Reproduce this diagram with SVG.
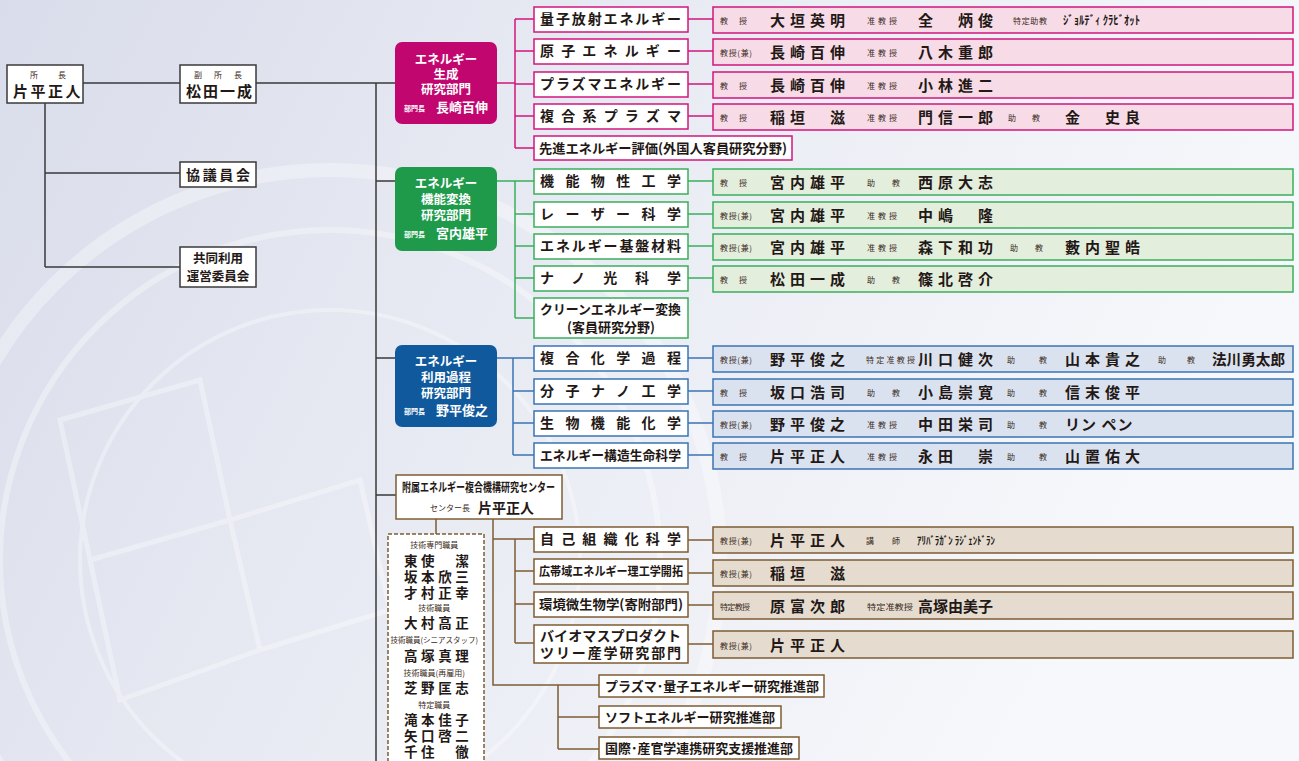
<svg xmlns="http://www.w3.org/2000/svg" width="1299" height="761" viewBox="0 0 1299 761">
<defs>
<linearGradient id="bg" x1="0" y1="0" x2="1" y2="0.3">
<stop offset="0" stop-color="#d9dcea"/>
<stop offset="0.45" stop-color="#e8eaf3"/>
<stop offset="1" stop-color="#f7f8fb"/>
</linearGradient>
<style>
text{font-family:"Noto Sans CJK JP","Noto Sans CJK SC",sans-serif;font-weight:700;fill:#231815}
.w{fill:#fff}
.dp{font-size:12.5px}
.sm{font-size:8px;font-weight:400;fill:#3a2a20}
.nm{font-size:15px;letter-spacing:5px}
.nm0{font-size:15px}
.ts{font-size:13.5px;letter-spacing:3.6px}
.sb{font-size:14px}
.box{fill:#fff;stroke:#3a3a3a;stroke-width:1.5}
.pk{fill:#fff;stroke:#d2167c;stroke-width:1.5}
.pkp{fill:#f7dce8;stroke:#d2167c;stroke-width:1.5}
.gr{fill:#fff;stroke:#3aae5c;stroke-width:1.5}
.grp{fill:#e3eedd;stroke:#3aae5c;stroke-width:1.5}
.bl{fill:#fff;stroke:#3a74b4;stroke-width:1.5}
.blp{fill:#dbe2ef;stroke:#3a74b4;stroke-width:1.5}
.br{fill:#fff;stroke:#7d5c33;stroke-width:1.5}
.brp{fill:#e5dccf;stroke:#7d5c33;stroke-width:1.5}
.lk{stroke:#3a3a3a;stroke-width:1.5;fill:none}
.lp{stroke:#d2167c;stroke-width:1.5;fill:none}
.lg{stroke:#3aae5c;stroke-width:1.5;fill:none}
.lb{stroke:#3a74b4;stroke-width:1.5;fill:none}
.ln{stroke:#7d5c33;stroke-width:1.5;fill:none}
</style>
</defs>
<rect width="1299" height="761" fill="url(#bg)"/>
<g opacity="0.35" fill="none" stroke="#ffffff">
<circle cx="330" cy="560" r="390" stroke-width="14"/>
<circle cx="330" cy="560" r="330" stroke-width="6"/>
<circle cx="330" cy="560" r="250" stroke-width="4"/>
<path d="M60 420 L200 380 L230 520 L90 560 Z M230 520 L360 480 L390 610 L260 650 Z M90 560 L230 520 L260 650 L120 700 Z" stroke-width="5"/>
</g>

<g id="connectors">
<path class="lk" d="M83 83 H180 M256 83 H395 M45 103 V267 M45 173 H180 M45 267 H180"/>
<path class="lk" d="M376 83 V761 M376 181 H395 M376 358 H395 M376 495 H396"/>
<path class="lp" d="M497 83 H515 M515 19 V148 M515 19 H534 M515 51 H534 M515 84 H534 M515 116 H534 M515 148 H534"/>
<path class="lp" d="M688 19 H713 M688 51 H713 M688 84 H713 M688 116 H713"/>
<path class="lg" d="M497 181 H534 M515 181 V318 M515 214 H534 M515 246 H534 M515 278 H534 M515 318 H534"/>
<path class="lg" d="M688 181 H713 M688 214 H713 M688 246 H713 M688 278 H713"/>
<path class="lb" d="M497 358 H534 M513 358 V455 M513 391 H534 M513 423 H534 M513 455 H534"/>
<path class="lb" d="M688 358 H713 M688 391 H713 M688 423 H713 M688 455 H713"/>
<path class="ln" d="M436 519 V534 M493 519 V685 H599 M493 539 H534 M515 539 V643 M515 571 H534 M515 604 H534 M515 643 H534"/>
<path class="ln" d="M688 540 H713 M688 573 H713 M688 605 H713 M688 644 H713"/>
<path class="ln" d="M558 685 V749 M558 717 H599 M558 749 H599"/>
</g>

<g id="director">
<rect class="box" x="7" y="65" width="76" height="38"/>
<text class="sm" x="30" y="78" textLength="36" lengthAdjust="spacing">所長</text>
<text class="nm" x="13" y="97" style="letter-spacing:2.5px">片平正人</text>
</g>
<g id="vice-director">
<rect class="box" x="180" y="65" width="76" height="38"/>
<text class="sm" x="194" y="78" textLength="48" lengthAdjust="spacing">副所長</text>
<text class="nm" x="186" y="97" style="letter-spacing:2px">松田一成</text>
</g>
<g id="council">
<rect class="box" x="180" y="162" width="76" height="25"/>
<text class="sb" x="186" y="180" textLength="64" lengthAdjust="spacing">協議員会</text>
</g>
<g id="joint-committee">
<rect class="box" x="180" y="247" width="76" height="40"/>
<text font-size="12.5" text-anchor="middle"><tspan x="218" y="263">共同利用</tspan><tspan x="218" y="281">運営委員会</tspan></text>
</g>

<g id="dept-generation">
<rect x="395" y="42" width="102" height="82" rx="7" fill="#c2066f"/>
<text class="w dp" text-anchor="middle"><tspan x="446" y="64">エネルギー</tspan><tspan x="446" y="79">生成</tspan><tspan x="446" y="94">研究部門</tspan></text>
<text class="w" x="404" y="111" font-size="7" font-weight="400">部門長</text>
<text class="w" x="436" y="112" font-size="13">長崎百伸</text>
</g>
<g id="pk1">
<rect class="pk" x="534" y="7" width="154" height="25"/>
<text class="sb" x="540" y="24" textLength="141" lengthAdjust="spacing">量子放射エネルギー</text>
<rect class="pkp" x="713" y="7" width="580" height="26"/>
<text class="sm" x="720" y="24" textLength="27" lengthAdjust="spacing">教授</text>
<text class="nm" x="770" y="26">大垣英明</text>
<text class="sm" x="867" y="24" textLength="30" lengthAdjust="spacing">准教授</text>
<text class="nm" x="918" y="26">全　炳俊</text>
<text class="sm" x="1013" y="24" textLength="34" lengthAdjust="spacing">特定助教</text>
<text x="1063" y="25" font-size="12" font-weight="400" textLength="77" lengthAdjust="spacingAndGlyphs">ｼﾞｮﾙﾃﾞｨ ｸﾗﾋﾞｵｯﾄ</text>
</g>
<g id="pk2">
<rect class="pk" x="534" y="39" width="154" height="25"/>
<text class="sb" x="540" y="56" textLength="141" lengthAdjust="spacing">原子エネルギー</text>
<rect class="pkp" x="713" y="39" width="580" height="26"/>
<text class="sm" x="720" y="56" textLength="32" lengthAdjust="spacing">教授(兼)</text>
<text class="nm" x="770" y="58">長崎百伸</text>
<text class="sm" x="867" y="56" textLength="30" lengthAdjust="spacing">准教授</text>
<text class="nm" x="918" y="58">八木重郎</text>
</g>
<g id="pk3">
<rect class="pk" x="534" y="72" width="154" height="25"/>
<text class="sb" x="540" y="89" textLength="141" lengthAdjust="spacing">プラズマエネルギー</text>
<rect class="pkp" x="713" y="72" width="580" height="26"/>
<text class="sm" x="720" y="89" textLength="27" lengthAdjust="spacing">教授</text>
<text class="nm" x="770" y="91">長崎百伸</text>
<text class="sm" x="867" y="89" textLength="30" lengthAdjust="spacing">准教授</text>
<text class="nm" x="918" y="91">小林進二</text>
</g>
<g id="pk4">
<rect class="pk" x="534" y="104" width="154" height="25"/>
<text class="sb" x="540" y="121" textLength="141" lengthAdjust="spacing">複合系プラズマ</text>
<rect class="pkp" x="713" y="104" width="580" height="26"/>
<text class="sm" x="720" y="121" textLength="27" lengthAdjust="spacing">教授</text>
<text class="nm" x="770" y="123">稲垣　滋</text>
<text class="sm" x="867" y="121" textLength="30" lengthAdjust="spacing">准教授</text>
<text class="nm" x="918" y="123">門信一郎</text>
<text class="sm" x="1008" y="121" textLength="32" lengthAdjust="spacing">助教</text>
<text class="nm" x="1065" y="123">金　史良</text>
</g>
<g id="pk5">
<rect class="pk" x="534" y="136" width="258" height="24"/>
<text x="539" y="153" font-size="13" textLength="248" lengthAdjust="spacingAndGlyphs">先進エネルギー評価(外国人客員研究分野)</text>
</g>

<g id="dept-conversion">
<rect x="395" y="167" width="102" height="84" rx="7" fill="#1e9a4a"/>
<text class="w dp" text-anchor="middle"><tspan x="446" y="188">エネルギー</tspan><tspan x="446" y="204">機能変換</tspan><tspan x="446" y="220">研究部門</tspan></text>
<text class="w" x="404" y="237" font-size="7" font-weight="400">部門長</text>
<text class="w" x="436" y="238" font-size="13">宮内雄平</text>
</g>
<g id="gr1">
<rect class="gr" x="534" y="169" width="154" height="25"/>
<text class="sb" x="540" y="186" textLength="141" lengthAdjust="spacing">機能物性工学</text>
<rect class="grp" x="713" y="169" width="580" height="26"/>
<text class="sm" x="720" y="186" textLength="27" lengthAdjust="spacing">教授</text>
<text class="nm" x="770" y="188">宮内雄平</text>
<text class="sm" x="867" y="186" textLength="33" lengthAdjust="spacing">助教</text>
<text class="nm" x="918" y="188">西原大志</text>
</g>
<g id="gr2">
<rect class="gr" x="534" y="202" width="154" height="25"/>
<text class="sb" x="540" y="219" textLength="141" lengthAdjust="spacing">レーザー科学</text>
<rect class="grp" x="713" y="202" width="580" height="26"/>
<text class="sm" x="720" y="219" textLength="32" lengthAdjust="spacing">教授(兼)</text>
<text class="nm" x="770" y="221">宮内雄平</text>
<text class="sm" x="867" y="219" textLength="30" lengthAdjust="spacing">准教授</text>
<text class="nm" x="918" y="221">中嶋　隆</text>
</g>
<g id="gr3">
<rect class="gr" x="534" y="234" width="154" height="25"/>
<text class="sb" x="540" y="251" textLength="141" lengthAdjust="spacing">エネルギー基盤材料</text>
<rect class="grp" x="713" y="234" width="580" height="26"/>
<text class="sm" x="720" y="251" textLength="32" lengthAdjust="spacing">教授(兼)</text>
<text class="nm" x="770" y="253">宮内雄平</text>
<text class="sm" x="867" y="251" textLength="30" lengthAdjust="spacing">准教授</text>
<text class="nm" x="918" y="253">森下和功</text>
<text class="sm" x="1010" y="251" textLength="33" lengthAdjust="spacing">助教</text>
<text class="nm" x="1065" y="253">藪内聖皓</text>
</g>
<g id="gr4">
<rect class="gr" x="534" y="266" width="154" height="25"/>
<text class="sb" x="540" y="283" textLength="141" lengthAdjust="spacing">ナノ光科学</text>
<rect class="grp" x="713" y="266" width="580" height="26"/>
<text class="sm" x="720" y="283" textLength="27" lengthAdjust="spacing">教授</text>
<text class="nm" x="770" y="285">松田一成</text>
<text class="sm" x="867" y="283" textLength="33" lengthAdjust="spacing">助教</text>
<text class="nm" x="918" y="285">篠北啓介</text>
</g>
<g id="gr5">
<rect class="gr" x="534" y="298" width="154" height="40"/>
<text x="540" y="314" font-size="13" textLength="141" lengthAdjust="spacingAndGlyphs">クリーンエネルギー変換</text>
<text x="611" y="332" font-size="13" text-anchor="middle">(客員研究分野)</text>
</g>

<g id="dept-utilization">
<rect x="395" y="345" width="102" height="82" rx="7" fill="#10599c"/>
<text class="w dp" text-anchor="middle"><tspan x="446" y="366">エネルギー</tspan><tspan x="446" y="382">利用過程</tspan><tspan x="446" y="398">研究部門</tspan></text>
<text class="w" x="404" y="414" font-size="7" font-weight="400">部門長</text>
<text class="w" x="436" y="415" font-size="13">野平俊之</text>
</g>
<g id="bl1">
<rect class="bl" x="534" y="346" width="154" height="25"/>
<text class="sb" x="540" y="363" textLength="141" lengthAdjust="spacing">複合化学過程</text>
<rect class="blp" x="713" y="346" width="580" height="26"/>
<text class="sm" x="720" y="363" textLength="32" lengthAdjust="spacing">教授(兼)</text>
<text class="nm" x="770" y="365">野平俊之</text>
<text class="sm" x="866" y="363" textLength="49" lengthAdjust="spacing">特定准教授</text>
<text class="nm" x="918" y="365">川口健次</text>
<text class="sm" x="1007" y="363" textLength="40" lengthAdjust="spacing">助教</text>
<text class="nm" x="1065" y="365">山本貴之</text>
<text class="sm" x="1158" y="363" textLength="37" lengthAdjust="spacing">助教</text>
<text class="nm0" x="1212" y="365" textLength="73" lengthAdjust="spacingAndGlyphs">法川勇太郎</text>
</g>
<g id="bl2">
<rect class="bl" x="534" y="379" width="154" height="25"/>
<text class="sb" x="540" y="396" textLength="141" lengthAdjust="spacing">分子ナノ工学</text>
<rect class="blp" x="713" y="379" width="580" height="26"/>
<text class="sm" x="720" y="396" textLength="27" lengthAdjust="spacing">教授</text>
<text class="nm" x="770" y="398">坂口浩司</text>
<text class="sm" x="867" y="396" textLength="33" lengthAdjust="spacing">助教</text>
<text class="nm" x="918" y="398">小島崇寛</text>
<text class="sm" x="1007" y="396" textLength="40" lengthAdjust="spacing">助教</text>
<text class="nm" x="1065" y="398">信末俊平</text>
</g>
<g id="bl3">
<rect class="bl" x="534" y="411" width="154" height="25"/>
<text class="sb" x="540" y="428" textLength="141" lengthAdjust="spacing">生物機能化学</text>
<rect class="blp" x="713" y="411" width="580" height="26"/>
<text class="sm" x="720" y="428" textLength="32" lengthAdjust="spacing">教授(兼)</text>
<text class="nm" x="770" y="430">野平俊之</text>
<text class="sm" x="867" y="428" textLength="30" lengthAdjust="spacing">准教授</text>
<text class="nm" x="918" y="430">中田栄司</text>
<text class="sm" x="1007" y="428" textLength="40" lengthAdjust="spacing">助教</text>
<text class="nm" x="1065" y="430" style="letter-spacing:1px">リン ペン</text>
</g>
<g id="bl4">
<rect class="bl" x="534" y="443" width="154" height="25"/>
<text x="540" y="460" font-size="13" textLength="141" lengthAdjust="spacingAndGlyphs">エネルギー構造生命科学</text>
<rect class="blp" x="713" y="443" width="580" height="26"/>
<text class="sm" x="720" y="460" textLength="27" lengthAdjust="spacing">教授</text>
<text class="nm" x="770" y="462">片平正人</text>
<text class="sm" x="867" y="460" textLength="30" lengthAdjust="spacing">准教授</text>
<text class="nm" x="918" y="462">永田　崇</text>
<text class="sm" x="1007" y="460" textLength="40" lengthAdjust="spacing">助教</text>
<text class="nm" x="1065" y="462">山置佑大</text>
</g>

<g id="center">
<rect class="br" x="396" y="475" width="166" height="44"/>
<text x="402" y="492" font-size="12" textLength="153" lengthAdjust="spacingAndGlyphs">附属エネルギー複合機構研究センター</text>
<text class="sm" x="430" y="511" textLength="40" lengthAdjust="spacingAndGlyphs">センター長</text>
<text x="478" y="513" font-size="14">片平正人</text>
</g>
<g id="tech-staff">
<rect x="388" y="534" width="96" height="240" fill="#fff" stroke="#7d5c33" stroke-width="1.5" stroke-dasharray="4 2"/>
<text>
<tspan class="sm" x="436" y="548" text-anchor="middle">技術専門職員</tspan>
<tspan class="ts" x="404" y="566">東使　潔</tspan>
<tspan class="ts" x="404" y="582">坂本欣三</tspan>
<tspan class="ts" x="404" y="598">才村正幸</tspan>
<tspan class="sm" x="436" y="611" text-anchor="middle">技術職員</tspan>
<tspan class="ts" x="404" y="628">大村高正</tspan>
<tspan class="sm" x="436" y="643" text-anchor="middle" style="font-size:7.5px">技術職員(シニアスタッフ)</tspan>
<tspan class="ts" x="404" y="661">高塚真理</tspan>
<tspan class="sm" x="436" y="676" text-anchor="middle">技術職員(再雇用)</tspan>
<tspan class="ts" x="404" y="693">芝野匡志</tspan>
<tspan class="sm" x="436" y="708" text-anchor="middle">特定職員</tspan>
<tspan class="ts" x="404" y="725">滝本佳子</tspan>
<tspan class="ts" x="404" y="741">矢口啓二</tspan>
<tspan class="ts" x="404" y="757">千住　徹</tspan>
</text>
</g>
<g id="br1">
<rect class="br" x="534" y="527" width="154" height="25"/>
<text class="sb" x="540" y="544" textLength="141" lengthAdjust="spacing">自己組織化科学</text>
<rect class="brp" x="713" y="527" width="580" height="26"/>
<text class="sm" x="720" y="544" textLength="32" lengthAdjust="spacing">教授(兼)</text>
<text class="nm" x="770" y="546">片平正人</text>
<text class="sm" x="866" y="544" textLength="34" lengthAdjust="spacing">講師</text>
<text x="917" y="545" font-size="11" font-weight="400" textLength="78" lengthAdjust="spacingAndGlyphs">ｱﾘﾊﾞﾗｶﾞﾝ ﾗｼﾞｪﾝﾄﾞﾗﾝ</text>
</g>
<g id="br2">
<rect class="br" x="534" y="559" width="154" height="25"/>
<text x="539" y="576" font-size="12.5" textLength="144" lengthAdjust="spacingAndGlyphs">広帯域エネルギー理工学開拓</text>
<rect class="brp" x="713" y="560" width="580" height="26"/>
<text class="sm" x="720" y="577" textLength="32" lengthAdjust="spacing">教授(兼)</text>
<text class="nm" x="770" y="579">稲垣　滋</text>
</g>
<g id="br3">
<rect class="br" x="534" y="592" width="154" height="25"/>
<text x="539" y="609" font-size="13" textLength="144" lengthAdjust="spacingAndGlyphs">環境微生物学(寄附部門)</text>
<rect class="brp" x="713" y="592" width="580" height="27"/>
<text class="sm" x="720" y="610" textLength="30" lengthAdjust="spacing">特定教授</text>
<text class="nm" x="770" y="612">原富次郎</text>
<text class="sm" x="867" y="610" textLength="46" lengthAdjust="spacingAndGlyphs">特定准教授</text>
<text class="nm0" x="918" y="612" textLength="75" lengthAdjust="spacingAndGlyphs">高塚由美子</text>
</g>
<g id="br4">
<rect class="br" x="534" y="625" width="154" height="38"/>
<text class="sb" x="540" y="641" textLength="141" lengthAdjust="spacing">バイオマスプロダクト</text>
<text class="sb" x="540" y="658" textLength="141" lengthAdjust="spacing">ツリー産学研究部門</text>
<rect class="brp" x="713" y="631" width="580" height="27"/>
<text class="sm" x="720" y="649" textLength="32" lengthAdjust="spacing">教授(兼)</text>
<text class="nm" x="770" y="651">片平正人</text>
</g>
<g id="promo1">
<rect class="br" x="599" y="675" width="225" height="22"/>
<text x="605" y="691" font-size="13" textLength="214" lengthAdjust="spacingAndGlyphs">プラズマ･量子エネルギー研究推進部</text>
</g>
<g id="promo2">
<rect class="br" x="599" y="706" width="182" height="22"/>
<text x="605" y="722" font-size="13" textLength="170" lengthAdjust="spacingAndGlyphs">ソフトエネルギー研究推進部</text>
</g>
<g id="promo3">
<rect class="br" x="599" y="737" width="200" height="22"/>
<text x="605" y="753" font-size="13" textLength="188" lengthAdjust="spacingAndGlyphs">国際･産官学連携研究支援推進部</text>
</g>
</svg>
